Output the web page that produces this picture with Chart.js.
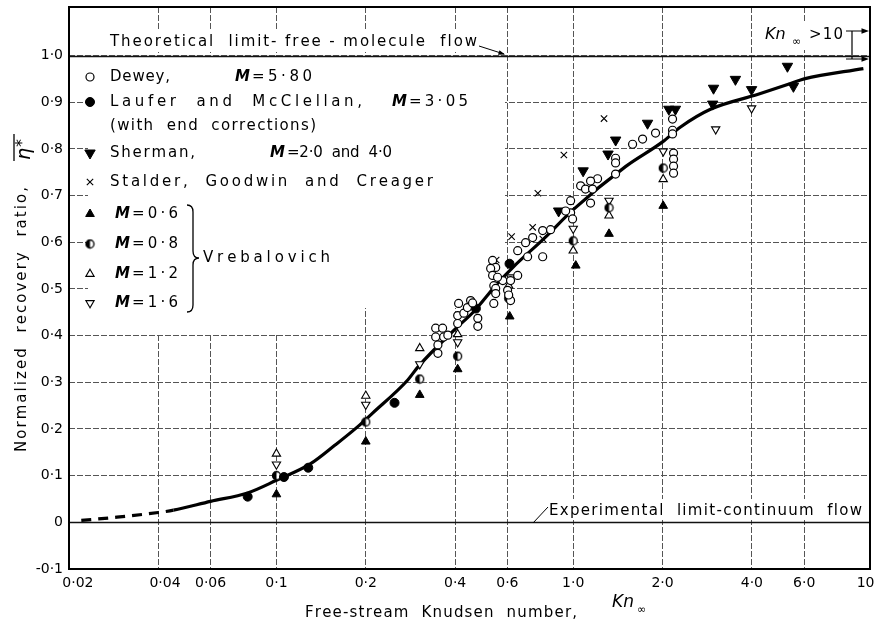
<!DOCTYPE html>
<html>
<head>
<meta charset="utf-8">
<script src="https://cdn.jsdelivr.net/npm/chart.js@4.4.1/dist/chart.umd.min.js"></script>
<style>
html, body { margin: 0; padding: 0; background: #fff; }
</style>
</head>
<body>
<canvas id="recoveryChart" width="881" height="626"></canvas>
<script>
// ticks
const xTickValues = [0.02, 0.04, 0.06, 0.1, 0.2, 0.4, 0.6, 1, 2, 4, 6, 10];
const xTickLabels = ['    0·02', '   0·04', '0·06', '0·1', '0·2', '0·4', '0·6', '1·0', '2·0', '4·0', '6·0', '10  '];
const yTickValues = [-0.1, 0, 0.1, 0.2, 0.3, 0.4, 0.5, 0.6, 0.7, 0.8, 0.9, 1.0];
const yTickLabels = ['-0·1', '0', '0·1', '0·2', '0·3', '0·4', '0·5', '0·6', '0·7', '0·8', '0·9', '1·0'];

// faired curve [Kn, eta]
const curve = [[0.022, 0.004], [0.029, 0.011], [0.04, 0.021], [0.045, 0.026], [0.06, 0.045], [0.08, 0.063],
  [0.1, 0.09], [0.13, 0.125], [0.158, 0.166], [0.188, 0.205], [0.21, 0.233], [0.277, 0.305], [0.3, 0.333],
  [0.4, 0.414], [0.46, 0.45], [0.556, 0.512], [0.63, 0.548], [0.8, 0.609], [1.0, 0.67], [1.5, 0.762],
  [2.0, 0.815], [2.3, 0.847], [2.9, 0.885], [4.2, 0.917], [5.4, 0.94], [6.0, 0.95], [9.5, 0.972]];

// Dewey, M = 5.80
const dewey = [[0.344, 0.416], [0.363, 0.416], [0.344, 0.397], [0.366, 0.397], [0.35, 0.38], [0.35, 0.362],
  [0.378, 0.401], [0.408, 0.443], [0.428, 0.448], [0.408, 0.426], [0.477, 0.437], [0.477, 0.42],
  [0.411, 0.469], [0.451, 0.475], [0.44, 0.46], [0.458, 0.47], [0.54, 0.469], [0.615, 0.475],
  [0.535, 0.561], [0.548, 0.546], [0.527, 0.544], [0.535, 0.529], [0.54, 0.507], [0.548, 0.501],
  [0.579, 0.518], [0.556, 0.525], [0.548, 0.49], [0.601, 0.497], [0.606, 0.487], [0.65, 0.529],
  [0.615, 0.518], [0.65, 0.582], [0.691, 0.599], [0.73, 0.61], [0.789, 0.625], [0.839, 0.627],
  [0.702, 0.569], [0.789, 0.569], [0.98, 0.689], [0.98, 0.663], [0.943, 0.667], [0.995, 0.65],
  [1.059, 0.721], [1.1, 0.714], [2.161, 0.864], [2.161, 0.84], [2.161, 0.832], [1.894, 0.834],
  [1.713, 0.821], [1.585, 0.81], [1.389, 0.78], [1.389, 0.77], [1.389, 0.746], [1.208, 0.736],
  [1.144, 0.731], [1.162, 0.714], [1.144, 0.684], [2.178, 0.791], [2.178, 0.778], [2.178, 0.763],
  [2.178, 0.748]];

// Laufer and McClellan, M = 3.05
const laufer = [[0.08, 0.055], [0.106, 0.097], [0.128, 0.117], [0.25, 0.256], [0.47, 0.458], [0.61, 0.554]];

// Sherman, M = 2.0 and 4.0
const sherman = [[2.1, 0.885], [2.21, 0.885], [1.78, 0.855], [1.39, 0.819], [1.31, 0.789], [1.08, 0.753],
  [0.893, 0.667], [2.97, 0.93], [2.95, 0.896], [3.52, 0.949], [3.99, 0.927], [5.27, 0.977], [5.52, 0.934]];

// Stalder, Goodwin and Creager
const stalder = [[0.93, 0.787], [0.76, 0.705], [1.27, 0.865], [0.73, 0.632], [0.62, 0.612], [0.55, 0.562], [0.79, 0.607]];

// Vrebalovich
const vrebM06 = [[0.1, 0.06], [0.2, 0.173], [0.304, 0.273], [0.408, 0.328], [0.611, 0.441], [1.02, 0.55], [1.32, 0.618], [2.01, 0.678]];
const vrebM08 = [[0.1, 0.1], [0.2, 0.215], [0.304, 0.307], [0.408, 0.356], [0.606, 0.48], [1.0, 0.603], [1.32, 0.674], [2.01, 0.759]];
const vrebM12 = [[0.1, 0.147], [0.2, 0.271], [0.304, 0.373], [0.408, 0.403], [0.606, 0.507], [1.0, 0.582], [1.32, 0.657], [2.01, 0.735]];
const vrebM16 = [[0.1, 0.124], [0.2, 0.252], [0.304, 0.339], [0.408, 0.386], [0.615, 0.525], [1.0, 0.629], [1.32, 0.689], [2.01, 0.795], [3.02, 0.842], [3.99, 0.887]];

const FONT = '"DejaVu Sans", "Liberation Sans", sans-serif';

// half filled circle for M = 0.8
function halfCircle(r) {
  const c = document.createElement('canvas');
  const s = Math.ceil(r * 2 + 3);
  c.width = s; c.height = s;
  const g = c.getContext('2d');
  const m = s / 2;
  g.fillStyle = '#fff';
  g.beginPath(); g.arc(m, m, r, 0, 2 * Math.PI); g.fill();
  g.fillStyle = '#000';
  g.beginPath(); g.arc(m, m, r, Math.PI / 2, Math.PI * 1.5); g.closePath(); g.fill();
  g.lineWidth = 1.3; g.strokeStyle = '#000';
  g.beginPath(); g.arc(m, m, r, 0, 2 * Math.PI); g.stroke();
  return c;
}

const markers = {
  dewey:   { pointStyle: 'circle', radius: 4, rotation: 0, fill: '#fff', borderWidth: 1.2 },
  laufer:  { pointStyle: 'circle', radius: 4.5, rotation: 0, fill: '#000', borderWidth: 1 },
  sherman: { pointStyle: 'triangle', radius: 6, rotation: 180, fill: '#000', borderWidth: 1 },
  stalder: { pointStyle: 'crossRot', radius: 4.5, rotation: 0, fill: '#000', borderWidth: 1.1 },
  m06:     { pointStyle: 'triangle', radius: 5, rotation: 0, fill: '#000', borderWidth: 1 },
  m08:     { pointStyle: halfCircle(4), radius: 4, rotation: 0, fill: '#000', borderWidth: 1 },
  m12:     { pointStyle: 'triangle', radius: 4.8, rotation: 0, fill: '#fff', borderWidth: 1.1 },
  m16:     { pointStyle: 'triangle', radius: 4.8, rotation: 180, fill: '#fff', borderWidth: 1.1 }
};

const pts = a => a.map(p => ({ x: p[0], y: p[1] }));

function scatterSet(label, data, key) {
  const m = markers[key];
  return {
    label: label,
    data: pts(data),
    showLine: false,
    pointStyle: m.pointStyle,
    pointRadius: m.radius,
    rotation: m.rotation,
    pointBackgroundColor: m.fill,
    pointBorderColor: '#000',
    pointBorderWidth: m.borderWidth,
    order: 1
  };
}

function spaced(ctx, text, x, y, width) {
  const chars = Array.from(text);
  const ws = chars.map(c => ctx.measureText(c).width);
  const total = ws.reduce((a, b) => a + b, 0);
  const gap = chars.length > 1 ? (width - total) / (chars.length - 1) : 0;
  let cx = x;
  ctx.textAlign = 'left';
  chars.forEach((c, i) => { ctx.fillText(c, cx, y); cx += ws[i] + gap; });
}

function mText(ctx, rest, x0, x1, y) {
  ctx.font = 'italic bold 15px ' + FONT;
  ctx.textAlign = 'left';
  ctx.fillText('M', x0, y);
  const mw = ctx.measureText('M').width;
  ctx.font = '15px ' + FONT;
  spaced(ctx, rest, x0 + mw + 2, y, x1 - x0 - mw - 2);
}

function drawMarker(ctx, key, x, y) {
  const m = markers[key];
  ctx.save();
  ctx.fillStyle = m.fill;
  ctx.strokeStyle = '#000';
  ctx.lineWidth = m.borderWidth;
  Chart.helpers.drawPoint(ctx, { pointStyle: m.pointStyle, radius: m.radius, rotation: m.rotation, borderWidth: m.borderWidth }, x, y);
  ctx.restore();
}

function arrowHead(ctx, x, y, ang, len) {
  ctx.beginPath();
  ctx.moveTo(x, y);
  ctx.lineTo(x - len * Math.cos(ang - 0.35), y - len * Math.sin(ang - 0.35));
  ctx.lineTo(x - len * Math.cos(ang + 0.35), y - len * Math.sin(ang + 0.35));
  ctx.closePath();
  ctx.fill();
}

const legendRows = [
  { y: 77, key: 'dewey', text: 'Dewey,', x1: 170, m: '=5·80', mx0: 235, mx1: 312 },
  { y: 102, key: 'laufer', text: 'Laufer  and  McClellan,', x1: 362, m: '=3·05', mx0: 392, mx1: 468 },
  { y: 126, text: '(with  end  corrections)', x1: 316 },
  { y: 153, key: 'sherman', text: 'Sherman,', x1: 195, m: '=2·0  and  4·0', mx0: 270, mx1: 392 },
  { y: 182, key: 'stalder', text: 'Stalder,  Goodwin  and  Creager', x1: 433 },
  { y: 214, key: 'm06', m: '=0·6', mx0: 115, mx1: 178 },
  { y: 244, key: 'm08', m: '=0·8', mx0: 115, mx1: 178 },
  { y: 274, key: 'm12', m: '=1·2', mx0: 115, mx1: 178 },
  { y: 303, key: 'm16', m: '=1·6', mx0: 115, mx1: 178 }
];

const annotations = {
  id: 'annotations',
  beforeDatasetsDraw(chart) {
    const ctx = chart.ctx;
    const a = chart.chartArea;
    const ys = chart.scales.y;
    ctx.save();
    // white patches behind legend and labels
    ctx.fillStyle = '#fff';
    ctx.fillRect(88, 57, 505 - 88, 308 - 57);
    ctx.fillRect(88, 308, 352 - 88, 25);
    ctx.fillRect(104, 30, 378, 22);
    ctx.fillRect(543, 499, a.right - 545, 21);
    ctx.fillRect(758, 22, 90, 28);
    // solid limit lines
    ctx.strokeStyle = '#111';
    ctx.lineWidth = 1.3;
    [0, 1].forEach(v => {
      const py = Math.round(ys.getPixelForValue(v)) + 0.5;
      ctx.beginPath(); ctx.moveTo(a.left, py); ctx.lineTo(a.right, py); ctx.stroke();
    });

    ctx.fillStyle = '#000';
    ctx.textBaseline = 'middle';
    // legend
    legendRows.forEach(r => {
      if (r.key) drawMarker(ctx, r.key, 90, r.y);
      ctx.fillStyle = '#000';
      if (r.text) {
        ctx.font = '15px ' + FONT;
        spaced(ctx, r.text, 110, r.y, r.x1 - 110);
      }
      if (r.m) mText(ctx, r.m, r.mx0, r.mx1, r.y);
    });
    // brace for Vrebalovich
    ctx.strokeStyle = '#000';
    ctx.lineWidth = 1.3;
    ctx.beginPath();
    ctx.moveTo(187, 205);
    ctx.quadraticCurveTo(193, 205, 193, 212);
    ctx.lineTo(193, 251);
    ctx.quadraticCurveTo(193, 258, 199, 258);
    ctx.quadraticCurveTo(193, 258, 193, 265);
    ctx.lineTo(193, 305);
    ctx.quadraticCurveTo(193, 312, 187, 312);
    ctx.stroke();
    ctx.font = '15px ' + FONT;
    spaced(ctx, 'Vrebalovich', 203, 258, 127);

    // limit labels
    spaced(ctx, 'Theoretical  limit- free - molecule  flow', 110, 42, 367);
    ctx.lineWidth = 1;
    ctx.beginPath(); ctx.moveTo(479, 46); ctx.lineTo(504, 54); ctx.stroke();
    arrowHead(ctx, 505, 54.5, Math.atan2(8, 25), 7);

    spaced(ctx, 'Experimental  limit-continuum  flow', 549, 511, 313);
    ctx.beginPath(); ctx.moveTo(533, 523); ctx.lineTo(548, 507); ctx.stroke();

    // Kn > 10 marker
    ctx.font = 'italic 16px ' + FONT;
    ctx.fillText('Kn', 765, 35);
    ctx.font = '11px ' + FONT;
    ctx.fillText('∞', 792, 42);
    ctx.font = '15px ' + FONT;
    spaced(ctx, '>10', 809, 35, 34);
    ctx.lineWidth = 1.2;
    ctx.beginPath();
    ctx.moveTo(846, 31); ctx.lineTo(858, 31);
    ctx.moveTo(852, 31); ctx.lineTo(852, 59);
    ctx.moveTo(846, 59); ctx.lineTo(858, 59);
    ctx.moveTo(852, 31); ctx.lineTo(864, 31);
    ctx.moveTo(852, 59); ctx.lineTo(864, 59);
    ctx.stroke();
    arrowHead(ctx, 869, 31, 0, 8);
    arrowHead(ctx, 869, 59, 0, 8);
    ctx.restore();
  },
  afterDraw(chart) {
    const ctx = chart.ctx;
    const a = chart.chartArea;
    ctx.save();
    ctx.strokeStyle = '#000';
    ctx.lineWidth = 2;
    ctx.strokeRect(a.left, a.top, a.right - a.left, a.bottom - a.top);

    ctx.fillStyle = '#000';
    ctx.textBaseline = 'middle';
    // x title
    ctx.font = '15px ' + FONT;
    spaced(ctx, 'Free-stream  Knudsen  number,', 305, 613, 272);
    ctx.font = 'italic 17px ' + FONT;
    ctx.fillText('Kn', 612, 603);
    ctx.font = '11px ' + FONT;
    ctx.fillText('∞', 637, 610);

    // y title (rotated)
    ctx.translate(22, 452);
    ctx.rotate(-Math.PI / 2);
    ctx.font = '15px ' + FONT;
    spaced(ctx, 'Normalized  recovery  ratio,', 0, 0, 265);
    ctx.font = 'italic 19px ' + FONT;
    ctx.fillText('η', 292, 3);
    ctx.font = '16px ' + FONT;
    ctx.fillText('*', 305, 1);
    ctx.lineWidth = 1.3;
    ctx.beginPath(); ctx.moveTo(291, -8); ctx.lineTo(318, -8); ctx.stroke();
    ctx.restore();
  }
};

const ctx = document.getElementById('recoveryChart').getContext('2d');
const recoveryChart = new Chart(ctx, {
  type: 'scatter',
  data: {
    datasets: [
      scatterSet('Dewey, M=5·80', dewey, 'dewey'),
      scatterSet('Laufer and McClellan, M=3·05', laufer, 'laufer'),
      scatterSet('Sherman, M=2·0 and 4·0', sherman, 'sherman'),
      scatterSet('Stalder, Goodwin and Creager', stalder, 'stalder'),
      scatterSet('M=0·6', vrebM06, 'm06'),
      scatterSet('M=0·8', vrebM08, 'm08'),
      scatterSet('M=1·2', vrebM12, 'm12'),
      scatterSet('M=1·6', vrebM16, 'm16'),
      {
        label: 'curve',
        data: pts(curve),
        showLine: true,
        borderColor: '#000',
        borderWidth: 3.2,
        pointRadius: 0,
        cubicInterpolationMode: 'monotone',
        order: 10,
        segment: {
          borderDash: c => c.p0.parsed.x < 0.042 ? [10, 7] : undefined
        }
      }
    ]
  },
  options: {
    responsive: false,
    animation: false,
    events: [],
    layout: { padding: { top: 5, right: 11, left: 0, bottom: 0 } },
    plugins: {
      legend: { display: false },
      tooltip: { enabled: false }
    },
    scales: {
      x: {
        type: 'logarithmic',
        min: 0.02,
        max: 10,
        afterBuildTicks: scale => { scale.ticks = xTickValues.map(v => ({ value: v })); },
        afterFit: scale => { scale.height = 57; scale.paddingLeft = 0; scale.paddingRight = 0; },
        ticks: {
          autoSkip: false,
          maxRotation: 0,
          padding: 6,
          color: '#000',
          font: { family: FONT, size: 14 },
          callback: (v, i) => xTickLabels[i]
        },
        grid: { color: '#555', lineWidth: 1, drawTicks: false },
        border: { display: false, dash: [6, 2] }
      },
      y: {
        min: -0.1,
        max: 1.104,
        afterBuildTicks: scale => { scale.ticks = yTickValues.map(v => ({ value: v })); },
        afterFit: scale => { scale.width = 69; scale.paddingTop = 0; scale.paddingBottom = 0; },
        ticks: {
          padding: 6,
          color: '#000',
          font: { family: FONT, size: 14 },
          callback: (v, i) => yTickLabels[i]
        },
        grid: { color: '#555', lineWidth: 1, drawTicks: false },
        border: { display: false, dash: [6, 2] }
      }
    }
  },
  plugins: [annotations]
});
</script>
</body>
</html>
